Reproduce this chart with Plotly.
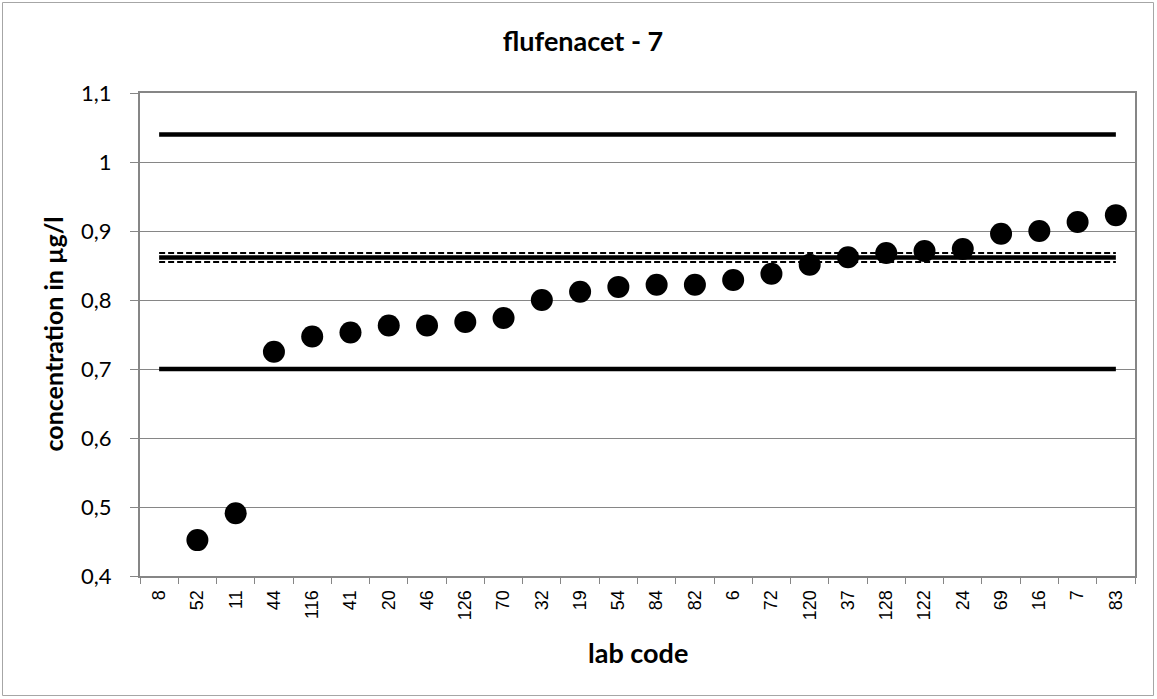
import plotly.graph_objects as go

# ---- data ----
lab_codes = ["8", "52", "11", "44", "116", "41", "20", "46", "126", "70", "32", "19", "54",
             "84", "82", "6", "72", "120", "37", "128", "122", "24", "69", "16", "7", "83"]
concentration = [None, 0.452, 0.491, 0.725, 0.747, 0.753, 0.763, 0.763, 0.768, 0.774, 0.800,
                 0.812, 0.819, 0.822, 0.822, 0.829, 0.838, 0.851, 0.862, 0.868, 0.871, 0.874,
                 0.896, 0.900, 0.913, 0.923]
upper_limit = 1.04
lower_limit = 0.70
assigned_value = 0.8615
uncertainty_upper = 0.868
uncertainty_lower = 0.855
y_ticks = [0.4, 0.5, 0.6, 0.7, 0.8, 0.9, 1.0, 1.1]

W, H = 1157, 699
L, R, T, B = 140, 22, 93, 123

fig = go.Figure()

ends = [lab_codes[0], lab_codes[-1]]
for val, width, dash in [(upper_limit, 4.5, "solid"), (lower_limit, 4.5, "solid"),
                         (uncertainty_upper, 2, "6px,3px"), (uncertainty_lower, 2, "6px,3px"),
                         (assigned_value, 4.5, "solid")]:
    fig.add_trace(go.Scatter(x=ends, y=[val, val], mode="lines",
                             line=dict(color="black", width=width, dash=dash),
                             hoverinfo="skip", showlegend=False))

fig.add_trace(go.Scatter(x=lab_codes, y=concentration, mode="markers",
                         marker=dict(color="black", size=22, line=dict(width=0)),
                         showlegend=False))

pw = W - L - R
ph = H - T - B

title_font = dict(family="Lato, Open Sans, sans-serif", size=27, color="black")

fig.update_layout(
    width=W, height=H,
    margin=dict(l=L, r=R, t=T, b=B, autoexpand=False),
    paper_bgcolor="white", plot_bgcolor="white",
    separators=",.",
    title=dict(text="<b>flufenacet - 7</b>", x=583 / W, xref="container", xanchor="center",
               y=1 - 42 / H, yref="container", yanchor="middle",
               font=title_font),
    xaxis=dict(type="category", categoryorder="array", categoryarray=lab_codes,
               range=[-0.5, len(lab_codes) - 0.5],
               tickangle=-90, tickson="boundaries", ticks="outside", ticklen=6,
               tickcolor="#868686", tickwidth=1,
               showline=True, linecolor="#868686", linewidth=2, mirror=True,
               showgrid=False, zeroline=False, ticklabelstandoff=5,
               tickfont=dict(family="Liberation Sans, Arial, sans-serif", size=18, color="black")),
    yaxis=dict(range=[0.4, 1.1], tickvals=y_ticks, ticks="outside", ticklen=8,
               tickcolor="#868686", tickwidth=1,
               showline=True, linecolor="#868686", linewidth=2, mirror=True,
               showgrid=True, gridcolor="#868686", gridwidth=1, zeroline=False,
               ticklabelstandoff=14,
               tickfont=dict(family="Lato, Open Sans, sans-serif", size=22, color="black")),
    shapes=[dict(type="rect", xref="paper", yref="paper",
                 x0=(2.5 - L) / pw, x1=(W - 3.5 - L) / pw,
                 y0=-(H - 3.5 - T - ph) / ph, y1=1 + (T - 2.5) / ph,
                 line=dict(color="#a6a6a6", width=1), layer="below")],
    annotations=[
        dict(text="<b>concentration in µg/l</b>", textangle=-90, xref="paper", yref="paper",
             x=(52 - L) / pw, y=0.5, xanchor="center", yanchor="middle", showarrow=False,
             font=dict(family="Lato, Open Sans, sans-serif", size=25, color="black")),
        dict(text="<b>lab code</b>", xref="paper", yref="paper",
             x=0.5, y=-(652 - T - ph) / ph, xanchor="center", yanchor="middle", showarrow=False,
             font=title_font),
    ],
)

fig.write_html("out.html", config={"displayModeBar": False},
               post_script="document.body.style.margin='0';document.body.style.overflow='hidden';")
